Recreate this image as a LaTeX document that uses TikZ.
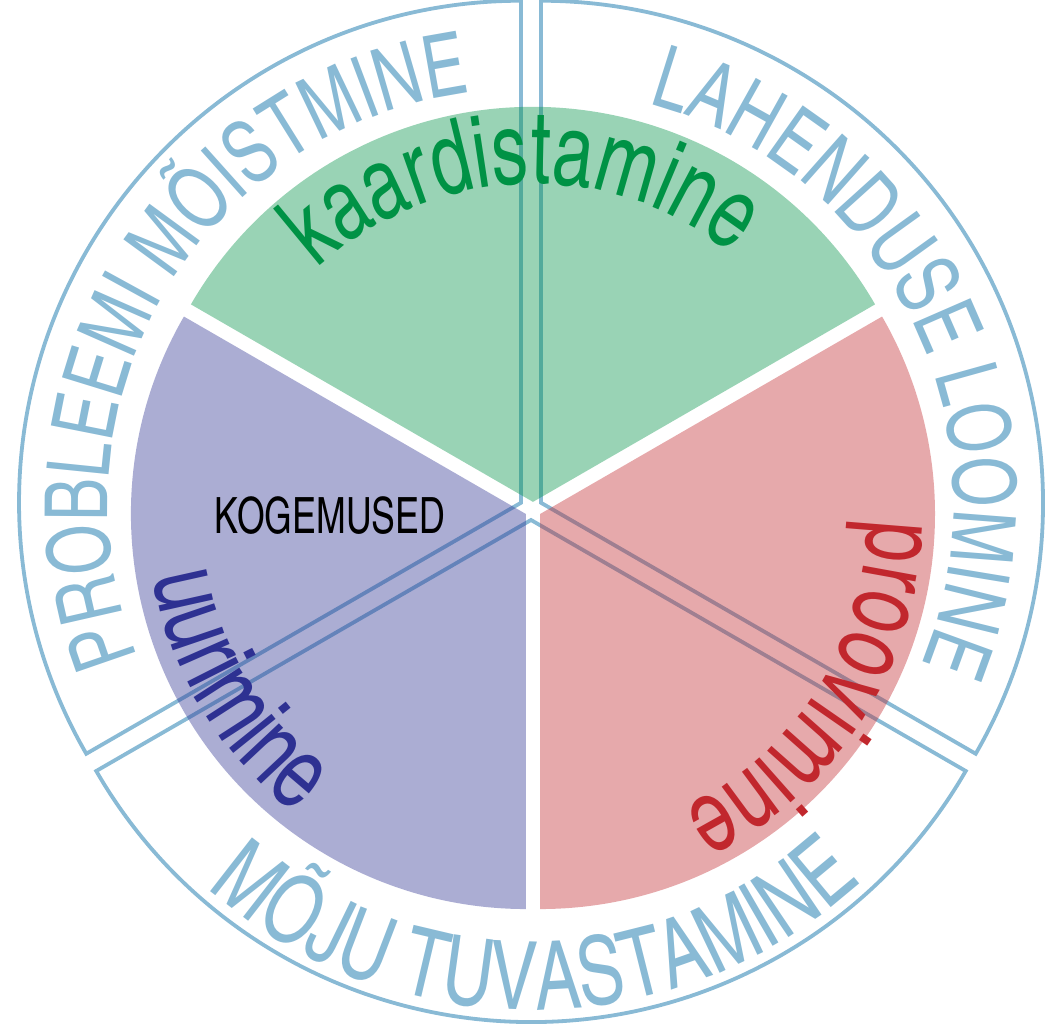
\documentclass[tikz,border=0pt]{standalone}
\usepackage{fontspec}
\setmainfont{texgyreheroscn-regular.otf}
\newfontfamily\narrowfont{texgyreheroscn-regular.otf}[FakeStretch=0.87]
\newfontfamily\ringface{texgyreheroscn-regular.otf}[FakeStretch=0.9]
\usetikzlibrary{decorations.text}
\definecolor{ringblue}{RGB}{137,186,213}
\definecolor{kgreen}{RGB}{0,146,69}
\definecolor{kred}{RGB}{193,39,45}
\definecolor{kpurple}{RGB}{46,49,146}
\newcommand\ringfont{\ringface\fontsize{87}{88}\selectfont}
\newcommand\bottomfont{\ringface\fontsize{95}{96}\selectfont}
\newcommand\innerfont{\narrowfont\fontsize{104}{104}\selectfont}
\newcommand\greenfont{\narrowfont\fontsize{102}{102}\selectfont}
\tikzset{
  ringpart/.style={draw=ringblue, line width=3.8pt, line join=miter},
  sectorpart/.style={fill opacity=0.4},
  arctext/.style 2 args={decorate, decoration={text along path, text={#2}, text align=center, text color=#1}}
}
\begin{document}
\begin{tikzpicture}[x=1pt,y=1pt]
\useasboundingbox (-533,-522) rectangle (512,510);
% centres of the slices
\coordinate (pc) at (-11.96,7.25);
\coordinate (lc) at (7.96,7.25);
\coordinate (mc) at (-2,-10);
\coordinate (gc) at (0,8.1);
\coordinate (uc) at (-7.01,-4.05);
\coordinate (rc) at (7.01,-4.05);
% outer ring slices
\draw[ringpart, shift={(pc)}] (0,0) -- (90:502) arc[start angle=90, end angle=210, radius=502] -- cycle;
\draw[ringpart, shift={(lc)}] (0,0) -- (-30:502) arc[start angle=-30, end angle=90, radius=502] -- cycle;
\draw[ringpart, shift={(mc)}] (0,0) -- (210:502) arc[start angle=210, end angle=330, radius=502] -- cycle;
% inner coloured sectors
\fill[kgreen, sectorpart, shift={(gc)}] (0,0) -- (30:395) arc[start angle=30, end angle=150, radius=395] -- cycle;
\fill[kpurple, sectorpart, shift={(uc)}] (0,0) -- (150:395) arc[start angle=150, end angle=270, radius=395] -- cycle;
\fill[kred, sectorpart, shift={(rc)}] (0,0) -- (270:395) arc[start angle=270, end angle=390, radius=395] -- cycle;
% ring texts
\path[shift={(pc)}, arctext={ringblue}{|\ringfont|PROBLEEMI MÕISTMINE}] (209.5:413) arc[start angle=209.5, end angle=89.5, radius=413];
\path[shift={(lc)}, arctext={ringblue}{|\ringfont|LAHENDUSE LOOMINE}] (86:413) arc[start angle=86, end angle=-34, radius=413];
\path[shift={(mc)}, arctext={ringblue}{|\bottomfont|MÕJU TUVASTAMINE}] (210.6:490) arc[start angle=210.6, end angle=330.6, radius=490];
% inner texts
\path[shift={(gc)}, arctext={kgreen}{|\greenfont|kaardistamine}] (152:318) arc[start angle=152, end angle=32, radius=318];
\path[shift={(rc)}, arctext={kred}{|\innerfont|proovimine}] (27.4:328) arc[start angle=27.4, end angle=-92.6, radius=328];
\path[shift={(uc)}, arctext={kpurple}{|\innerfont|uurimine}] (151:378) arc[start angle=151, end angle=271, radius=378];
\node[font=\narrowfont\fontsize{50}{50}\selectfont, text=black] (kog) at (-203,-6) {KOGEMUSED};
\end{tikzpicture}
\end{document}
